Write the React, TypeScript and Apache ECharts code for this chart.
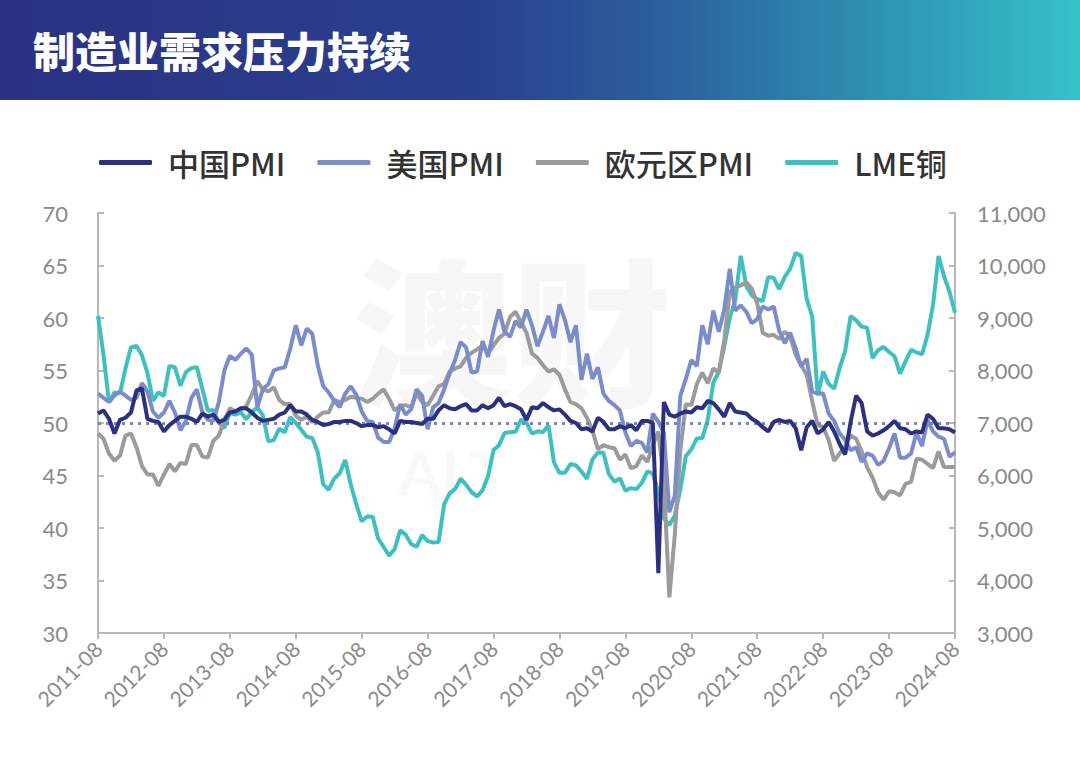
import React, { useEffect, useRef } from "react";
import * as echarts from "echarts";

const months: string[] = [];
for (let y = 2011, m = 8; y < 2024 || (y === 2024 && m <= 8); ) {
  months.push(`${y}-${String(m).padStart(2, "0")}`);
  m++;
  if (m > 12) { m = 1; y++; }
}

const seriesNames = ["中国PMI", "美国PMI", "欧元区PMI", "LME铜"];

const chinaPMI = [
  50.9, 51.2, 50.4, 49.0, 50.3,
  50.5, 51.0, 53.1, 53.3, 50.4, 50.2, 50.1, 49.2, 49.8, 50.2, 50.6, 50.6,
  50.4, 50.1, 50.9, 50.6, 50.8, 50.1, 50.3, 51.0, 51.1, 51.4, 51.4, 51.0,
  50.5, 50.2, 50.3, 50.4, 50.8, 51.0, 51.7, 51.1, 51.1, 50.8, 50.3, 50.1,
  49.8, 49.9, 50.1, 50.1, 50.2, 50.2, 50.0, 49.7, 49.8, 49.8, 49.6, 49.7,
  49.4, 49.0, 50.2, 50.1, 50.1, 50.0, 49.9, 50.4, 50.4, 51.2, 51.7, 51.4,
  51.3, 51.6, 51.8, 51.2, 51.2, 51.7, 51.4, 51.7, 52.4, 51.6, 51.8, 51.6,
  51.3, 50.3, 51.5, 51.4, 51.9, 51.5, 51.2, 51.3, 50.8, 50.2, 50.0, 49.4,
  49.5, 49.2, 50.5, 50.1, 49.4, 49.4, 49.7, 49.5, 49.8, 49.3, 50.2, 50.2,
  50.0, 35.7, 52.0, 50.8, 50.6, 50.9, 51.1, 51.0, 51.5, 51.4, 52.1, 51.9,
  51.3, 50.6, 51.9, 51.1, 51.0, 50.9, 50.4, 50.1, 49.6, 49.2, 50.1, 50.3,
  50.1, 50.2, 49.5, 47.4, 49.6, 50.2, 49.0, 49.4, 50.1, 49.2, 48.0, 47.0,
  50.1, 52.6, 51.9, 49.2, 48.8, 49.0, 49.3, 49.7, 50.2, 49.5, 49.4, 49.0,
  49.2, 49.1, 50.8, 50.4, 49.5, 49.5, 49.4, 49.1,
];

const usPMI = [
  52.8, 52.4, 52.0, 52.6, 53.0,
  52.6, 52.2, 52.4, 53.8, 53.0, 51.1, 50.5, 51.0, 52.1, 51.0, 49.3, 50.2,
  52.4, 53.2, 51.0, 50.3, 50.2, 52.0, 55.0, 56.4, 56.0, 56.6, 57.1, 56.5,
  51.5, 53.2, 53.7, 55.0, 55.2, 55.3, 57.1, 59.3, 57.4, 59.0, 58.5, 55.5,
  53.5, 52.9, 52.1, 51.5, 52.8, 53.5, 52.7, 51.1, 50.2, 50.1, 48.6, 48.2,
  48.2, 49.5, 51.8, 50.8, 51.3, 53.2, 52.6, 49.4, 51.5, 51.9, 53.2, 54.7,
  56.0, 57.7, 57.2, 54.8, 54.9, 57.8, 56.3, 58.8, 60.8, 58.7, 58.2, 59.7,
  59.1, 60.8, 59.3, 57.3, 58.7, 60.2, 58.1, 61.3, 59.8, 57.7, 59.3, 54.1,
  56.6, 54.2, 55.3, 52.8, 52.1, 51.7, 51.2, 49.1, 47.8, 48.3, 48.1, 47.2,
  50.9, 50.1, 49.1, 41.5, 43.1, 52.6, 54.2, 56.0, 55.4, 59.3, 57.5, 60.7,
  58.7, 60.8, 64.7, 60.7, 61.2, 60.6, 59.5, 59.9, 61.1, 60.8, 61.1, 58.8,
  57.6, 58.6, 57.1, 55.4, 56.1, 53.0, 52.8, 52.8, 50.9, 50.2, 49.0, 48.4,
  47.4, 47.7, 46.3, 47.1, 46.9, 46.0, 46.4, 47.6, 49.0, 46.7, 46.7, 47.1,
  49.1, 47.8, 50.3, 49.2, 48.7, 48.5, 46.8, 47.2,
];

const euPMI = [
  49.0, 48.5, 47.1, 46.4, 46.9,
  48.8, 49.0, 47.7, 45.9, 45.1, 45.1, 44.0, 45.1, 46.1, 45.4, 46.2, 46.1,
  47.9, 47.9, 46.8, 46.7, 48.3, 48.8, 50.3, 51.4, 51.1, 51.3, 51.6, 52.7,
  54.0, 53.2, 53.0, 53.4, 52.2, 51.8, 51.8, 50.7, 50.3, 50.6, 50.1, 50.6,
  51.0, 51.0, 52.2, 52.0, 52.2, 52.5, 52.4, 52.3, 52.0, 52.3, 52.8, 53.2,
  52.3, 51.2, 51.6, 51.7, 51.5, 52.8, 52.0, 51.7, 52.6, 53.5, 53.7, 54.9,
  55.2, 55.4, 56.2, 56.7, 57.0, 57.4, 56.6, 57.4, 58.1, 58.5, 60.1, 60.6,
  59.6, 58.6, 56.6, 56.2, 55.5, 54.9, 55.1, 54.6, 53.2, 52.0, 51.8, 51.4,
  50.5, 49.3, 47.5, 47.9, 47.7, 47.6, 46.5, 47.0, 45.7, 45.9, 46.9, 46.3,
  47.9, 49.2, 44.5, 33.4, 39.4, 47.4, 51.8, 51.7, 53.7, 54.8, 53.8, 55.2,
  54.8, 57.9, 62.5, 62.9, 63.1, 63.4, 62.8, 61.4, 58.6, 58.3, 58.4, 58.0,
  58.7, 58.2, 56.5, 55.5, 54.6, 52.1, 49.8, 49.6, 48.4, 46.4, 47.1, 47.8,
  48.8, 48.5, 47.3, 45.8, 44.8, 43.4, 42.7, 43.5, 43.4, 43.1, 44.2, 44.4,
  46.6, 46.5, 46.1, 45.7, 47.3, 45.8, 45.8, 45.8,
];

const lmeCopper = [
  9040, 8300, 7394, 7581, 7565,
  8040, 8441, 8470, 8289, 7955, 7423, 7584, 7515, 8088, 8062, 7711, 7966,
  8047, 8061, 7646, 7234, 7249, 7000, 6907, 7189, 7159, 7203, 7071, 7215,
  7291, 7149, 6650, 6674, 6891, 6821, 7113, 7002, 6872, 6737, 6713, 6446,
  5831, 5729, 5940, 6042, 6295, 5833, 5457, 5127, 5217, 5216, 4800, 4638,
  4472, 4599, 4954, 4873, 4696, 4642, 4864, 4751, 4723, 4731, 5450, 5660,
  5741, 5941, 5822, 5684, 5600, 5721, 5985, 6485, 6578, 6809, 6826, 6834,
  7066, 7006, 6799, 6842, 6824, 6956, 6250, 6051, 6051, 6219, 6192, 6076,
  5939, 6303, 6439, 6433, 6026, 5882, 5944, 5711, 5760, 5741, 5861, 6080,
  6031, 5687, 5183, 5058, 5240, 5735, 6369, 6497, 6705, 6713, 7064, 7772,
  7970, 8460, 9005, 9336, 10184, 9612, 9433, 9357, 9324, 9778, 9765, 9550,
  9781, 9941, 10238, 10183, 9363, 9033, 7529, 7981, 7746, 7651, 8049, 8371,
  9036, 8955, 8836, 8814, 8234, 8386, 8446, 8353, 8271, 7940, 8175, 8394,
  8344, 8310, 8676, 9250, 10180, 9800, 9500, 9100,
];

const colors = {
  china: "#2b3081",
  us: "#7b8ccb",
  eu: "#9b9b9b",
  cu: "#3ec0c0",
};

const axisColor = "#b8b8b8";
const labelColor = "#8a8a8a";

export default function App() {
  const ref = useRef<HTMLDivElement>(null);
  useEffect(() => {
    if (!ref.current) return;
    const chart = echarts.init(ref.current, undefined, { renderer: "svg" });
    const option: any = {
      animation: false,
      backgroundColor: "#ffffff",
      graphic: [
        {
          type: "rect",
          left: 0,
          top: 0,
          z: 0,
          shape: { x: 0, y: 0, width: 1080, height: 100 },
          style: {
            fill: new echarts.graphic.LinearGradient(0, 0, 1, 0, [
              { offset: 0, color: "#2b3182" },
              { offset: 0.45, color: "#2a4190" },
              { offset: 0.62, color: "#2b619f" },
              { offset: 0.8, color: "#2e8eb2" },
              { offset: 1, color: "#37c2c8" },
            ]),
          },
        },
        {
          type: "text",
          left: 33,
          top: 28,
          z: 1,
          style: {
            text: "制造业需求压力持续",
            fill: "#ffffff",
            fontSize: 42,
            fontWeight: 900,
            fontFamily: "Noto Sans CJK SC",
          },
        },
        {
          type: "text",
          left: 352,
          top: 245,
          z: 0,
          style: {
            text: "澳财",
            fill: "rgba(0,0,0,0.03)",
            fontSize: 160,
            lineHeight: 160,
            fontWeight: 900,
            fontFamily: "Noto Sans CJK SC",
          },
        },
        {
          type: "text",
          left: 398,
          top: 440,
          z: 0,
          style: {
            text: "ALT",
            fill: "rgba(0,0,0,0.025)",
            fontSize: 62,
            lineHeight: 62,
            fontWeight: 700,
            fontFamily: "Lato",
          },
        },
      ],
      legend: {
        data: seriesNames,
        top: 142,
        left: 94,
        icon: "roundRect",
        itemWidth: 53,
        itemHeight: 5,
        itemGap: 32,
        textStyle: {
          fontSize: 31,
          fontWeight: 500,
          color: "#333333",
          fontFamily: "Noto Sans CJK SC",
          padding: [0, 0, 0, 11],
        },
      },
      grid: { left: 98, right: 125, top: 213, bottom: 134 },
      xAxis: {
        type: "category",
        data: months,
        boundaryGap: false,
        axisLine: { lineStyle: { color: axisColor, width: 2 } },
        axisTick: {
          alignWithLabel: true,
          interval: 11,
          length: 6,
          lineStyle: { color: axisColor, width: 2 },
        },
        axisLabel: {
          interval: 11,
          rotate: 45,
          fontSize: 21,
          color: labelColor,
          fontFamily: "Lato",
          margin: 12,
        },
        splitLine: { show: false },
      },
      yAxis: [
        {
          type: "value",
          min: 30,
          max: 70,
          interval: 5,
          position: "left",
          axisLine: { show: true, lineStyle: { color: axisColor, width: 2 } },
          axisTick: { show: true, inside: true, length: 6, lineStyle: { color: axisColor, width: 2 } },
          axisLabel: { fontSize: 22, color: labelColor, fontFamily: "Lato", margin: 30 },
          splitLine: { show: false },
        },
        {
          type: "value",
          min: 3000,
          max: 11000,
          interval: 1000,
          position: "right",
          axisLine: { show: true, lineStyle: { color: axisColor, width: 2 } },
          axisTick: { show: true, inside: true, length: 6, lineStyle: { color: axisColor, width: 2 } },
          axisLabel: {
            fontSize: 22,
            color: labelColor,
            fontFamily: "Lato",
            margin: 22,
            formatter: (v: number) => v.toLocaleString("en-US"),
          },
          splitLine: { show: false },
        },
      ],
      series: [
        {
          name: "LME铜",
          type: "line",
          yAxisIndex: 1,
          data: lmeCopper,
          showSymbol: false,
          lineStyle: { width: 4, color: colors.cu },
          itemStyle: { color: colors.cu },
          z: 2,
        },
        {
          name: "欧元区PMI",
          type: "line",
          data: euPMI,
          showSymbol: false,
          lineStyle: { width: 4, color: colors.eu },
          itemStyle: { color: colors.eu },
          z: 3,
        },
        {
          name: "美国PMI",
          type: "line",
          data: usPMI,
          showSymbol: false,
          lineStyle: { width: 4, color: colors.us },
          itemStyle: { color: colors.us },
          z: 4,
        },
        {
          name: "中国PMI",
          type: "line",
          data: chinaPMI,
          showSymbol: false,
          lineStyle: { width: 4, color: colors.china },
          itemStyle: { color: colors.china },
          z: 5,
          markLine: {
            silent: true,
            symbol: ["none", "none"],
            label: { show: false },
            lineStyle: { color: "#7d83bf", type: [3, 5], width: 3 },
            data: [{ yAxis: 50 }],
          },
        },
      ],
    };
    chart.setOption(option);
    return () => chart.dispose();
  }, []);
  return (
    <div
      ref={ref}
      style={{ position: "absolute", left: 0, top: 0, width: 1080, height: 767 }}
    />
  );
}
